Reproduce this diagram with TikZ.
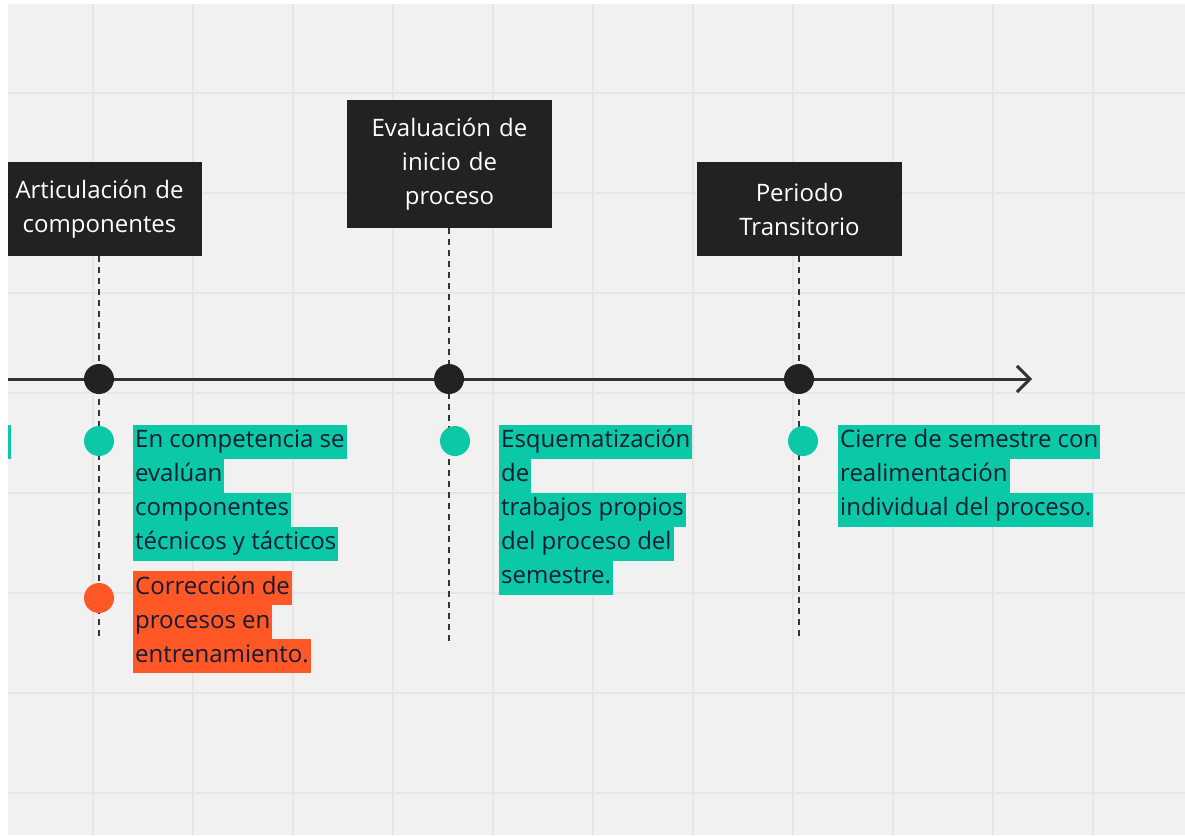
\documentclass[tikz,border=0pt]{standalone}
\usepackage{fontspec}
\setmainfont{Open Sans}
\usepackage{xcolor}
\usetikzlibrary{arrows.meta}

\definecolor{boardgrey}{HTML}{F1F1F1}
\definecolor{gridgrey}{HTML}{E6E6E6}
\definecolor{boxblack}{HTML}{222222}
\definecolor{axisgrey}{HTML}{333333}
\definecolor{stickyteal}{HTML}{0BC9A6}
\definecolor{stickyorange}{HTML}{FF5726}
\definecolor{inkblue}{HTML}{141B33}

\begin{document}
\begin{tikzpicture}[x=1pt, y=-1pt]
    \useasboundingbox (0,0) rectangle (1185,835);
    \fill[white] (0,0) rectangle (1185,835);
    \fill[boardgrey] (8,4) rectangle (1185,835);
    % board grid
    \foreach \gx in {93,193,...,1093}
        \draw[gridgrey, line width=2] (\gx,4) -- (\gx,835);
    \foreach \gy in {93,193,...,793}
        \draw[gridgrey, line width=2] (8,\gy) -- (1185,\gy);

    % phase boxes
    \begin{scope}[every node/.style = {fill=boxblack, text=white, align=center,
                    font=\fontsize{24}{34}\selectfont, inner sep=0,
                    minimum width=205, text width=200}]
        \node[minimum height=94] (T1) at (99.5, 209)  {Articulación de\\componentes};
        \node[minimum height=128] (T2) at (449.5, 164) {Evaluación de\\inicio de\\proceso};
        \node[minimum height=94] (T3) at (799.5, 209) {Periodo\\Transitorio};
    \end{scope}

    \coordinate (B1) at (99, 641);
    \coordinate (B2) at (449, 641);
    \coordinate (B3) at (799, 641);
    \coordinate (X0) at (8, 379);
    \coordinate (X1) at (1032, 379);

    % dashed guides and axis
    \begin{scope}[dash pattern=on 6 off 5, line width=2, draw=axisgrey]
        \draw (T1.south -| B1) -- (B1);
        \draw (T2.south -| B2) -- (B2);
        \draw (T3.south -| B3) -- (B3);
    \end{scope}
    \draw[axisgrey, line width=3, -{Straight Barb[length=13, width=26, line width=3]}] (X0) -- (X1);

    \begin{scope}[every node/.style = {circle, inner sep=0, minimum size=30}]
        \node[fill=boxblack] (D1) at (99, 379)  {};
        \node[fill=boxblack] (D2) at (449, 379) {};
        \node[fill=boxblack] (D3) at (799, 379) {};
        \node[fill=stickyteal] (M1) at (99, 441)  {};
        \node[fill=stickyteal] (M2) at (455, 441) {};
        \node[fill=stickyteal] (M3) at (803, 441) {};
        \node[fill=stickyorange] (M4) at (99, 598) {};
    \end{scope}

    % highlighted notes, one node per line
    \begin{scope}[every node/.style = {fill=stickyteal, text=inkblue, anchor=west,
                    font=\fontsize{24}{34}\selectfont, inner xsep=2, inner ysep=6,
                    text height=17, text depth=5}]
        \node (L11) at (133, 441.5) {En competencia se};
        \node (L12) at (133, 475.5) {evalúan};
        \node (L13) at (133, 509.5) {componentes};
        \node (L14) at (133, 543.5) {técnicos y tácticos};
        \node[fill=stickyorange] (L15) at (133, 588) {Corrección de};
        \node[fill=stickyorange] (L16) at (133, 622) {procesos en};
        \node[fill=stickyorange] (L17) at (133, 656) {entrenamiento.};

        \node (L21) at (499, 441.5) {Esquematización};
        \node (L22) at (499, 475.5) {de};
        \node (L23) at (499, 509.5) {trabajos propios};
        \node (L24) at (499, 543.5) {del proceso del};
        \node (L25) at (499, 577.5) {semestre.};

        \node (L31) at (838, 441.5) {Cierre de semestre con};
        \node (L32) at (838, 475.5) {realimentación};
        \node (L33) at (838, 509.5) {individual del proceso.};
    \end{scope}

    % page margin on the left cuts the first box
    \fill[white] (0,0) rectangle (8,835);
    \node[fill=stickyteal, inner sep=0, minimum width=3, minimum height=34, anchor=west] (L00) at (8, 441.5) {};
\end{tikzpicture}
\end{document}
